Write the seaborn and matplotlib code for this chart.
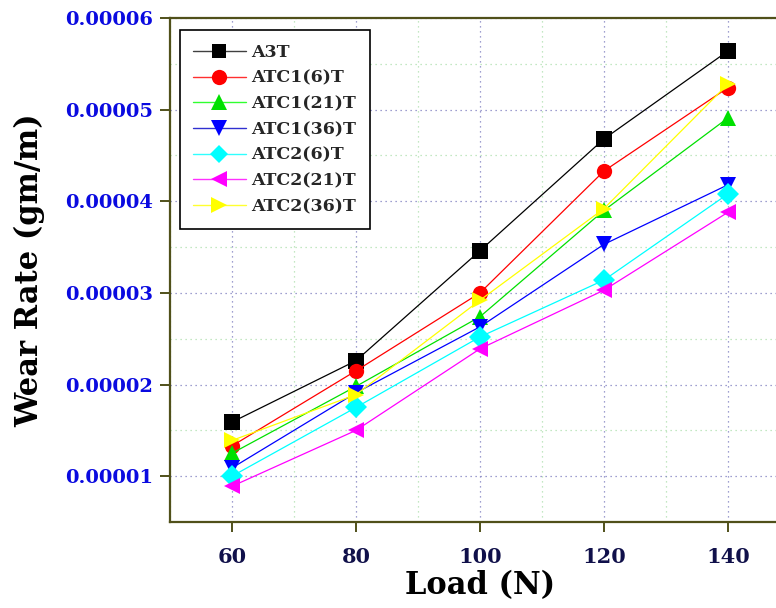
import matplotlib
matplotlib.use("Agg")
import matplotlib.pyplot as plt
import seaborn as sns
import pandas as pd
from matplotlib.ticker import MultipleLocator, FormatStrFormatter
from matplotlib.lines import Line2D

loads = [60, 80, 100, 120, 140]
series_names = ["A3T", "ATC1(6)T", "ATC1(21)T", "ATC1(36)T", "ATC2(6)T", "ATC2(21)T", "ATC2(36)T"]
a3t = [1.59e-5, 2.26e-5, 3.46e-5, 4.68e-5, 5.64e-5]
atc1_6 = [1.33e-5, 2.15e-5, 3.00e-5, 4.33e-5, 5.24e-5]
atc1_21 = [1.25e-5, 1.98e-5, 2.74e-5, 3.90e-5, 4.91e-5]
atc1_36 = [1.09e-5, 1.91e-5, 2.63e-5, 3.53e-5, 4.18e-5]
atc2_6 = [1.00e-5, 1.75e-5, 2.52e-5, 3.14e-5, 4.08e-5]
atc2_21 = [0.89e-5, 1.50e-5, 2.39e-5, 3.03e-5, 3.88e-5]
atc2_36 = [1.39e-5, 1.89e-5, 2.92e-5, 3.92e-5, 5.28e-5]
all_values = [a3t, atc1_6, atc1_21, atc1_36, atc2_6, atc2_21, atc2_36]

colors = ["#000000", "#ff0000", "#00e000", "#0000ff", "#00ffff", "#ff00ff", "#ffff00"]
markers = ["s", "o", "^", "v", "D", "<", ">"]
msizes = [10, 11, 11, 11, 9, 11, 11]

rows = []
for name, vals in zip(series_names, all_values):
    for x, y in zip(loads, vals):
        rows.append({"Load": x, "Wear": y, "Sample": name})
df = pd.DataFrame(rows)

sns.set_style("white")
fig = plt.figure(figsize=(7.76, 6.08), dpi=100)
ax = fig.add_axes([0.219, 0.1414, 0.799, 0.829])

sns.lineplot(data=df, x="Load", y="Wear", hue="Sample", style="Sample",
             hue_order=series_names, style_order=series_names,
             palette=dict(zip(series_names, colors)),
             markers=dict(zip(series_names, markers)), dashes=False,
             linewidth=0.9, markersize=11, markeredgewidth=0, ax=ax,
             legend=False)

ax.set_xlim(50, 150)
ax.set_ylim(0.5e-5, 6e-5)
ax.xaxis.set_major_locator(MultipleLocator(20))
ax.xaxis.set_minor_locator(MultipleLocator(10))
ax.yaxis.set_major_locator(MultipleLocator(1e-5))
ax.yaxis.set_minor_locator(MultipleLocator(0.5e-5))
ax.yaxis.set_major_formatter(FormatStrFormatter("%.5f"))

ax.grid(True, which="major", linestyle=(0, (1, 3)), color="#8080c0", linewidth=0.9)
ax.grid(True, which="minor", linestyle=(0, (1, 3)), color="#b0e0b0", linewidth=0.9)
ax.set_axisbelow(True)

spine_color = "#50501a"
for s in ax.spines.values():
    s.set_color(spine_color)
    s.set_linewidth(1.6)

ax.tick_params(axis="both", which="major", direction="out", length=7, width=1.4,
               color=spine_color, left=True, bottom=True)
ax.tick_params(axis="x", which="major", pad=11)
ax.tick_params(axis="y", which="major", pad=5)
ax.tick_params(axis="both", which="minor", length=0)
for lab in ax.get_yticklabels():
    lab.set_fontfamily("DejaVu Serif")
    lab.set_fontweight("bold")
    lab.set_fontsize(14)
    lab.set_color("#0a0ae0")
for lab in ax.get_xticklabels():
    lab.set_fontfamily("DejaVu Serif")
    lab.set_fontweight("bold")
    lab.set_fontsize(15)
    lab.set_color("#10104a")

ax.set_xlabel("Load (N)", fontfamily="DejaVu Serif", fontweight="bold", fontsize=22,
              color="black", labelpad=2)
ax.set_ylabel("Wear Rate (gm/m)", fontfamily="DejaVu Serif", fontweight="bold", fontsize=22,
              color="black", labelpad=14)

line_colors = ["#404040", "#ff3030", "#30ff30", "#3030d0", "#30ffff", "#ff30ff", "#ffff30"]
handles = [Line2D([], [], color=lc, marker=m, markerfacecolor=c, markeredgewidth=0,
                  markersize=ms, linewidth=1.0)
           for lc, c, m, ms in zip(line_colors, colors, markers, msizes)]
leg = ax.legend(handles, series_names, loc="upper left", bbox_to_anchor=(0.0155, 0.976),
                frameon=True, fancybox=False, edgecolor="black", framealpha=1,
                prop={"family": "DejaVu Serif", "weight": "bold", "size": 12.5},
                handlelength=3.0, handletextpad=0.35, labelspacing=0.5,
                borderpad=0.8, borderaxespad=0)
leg.get_frame().set_linewidth(1.2)

fig.savefig("out.png", dpi=100)
